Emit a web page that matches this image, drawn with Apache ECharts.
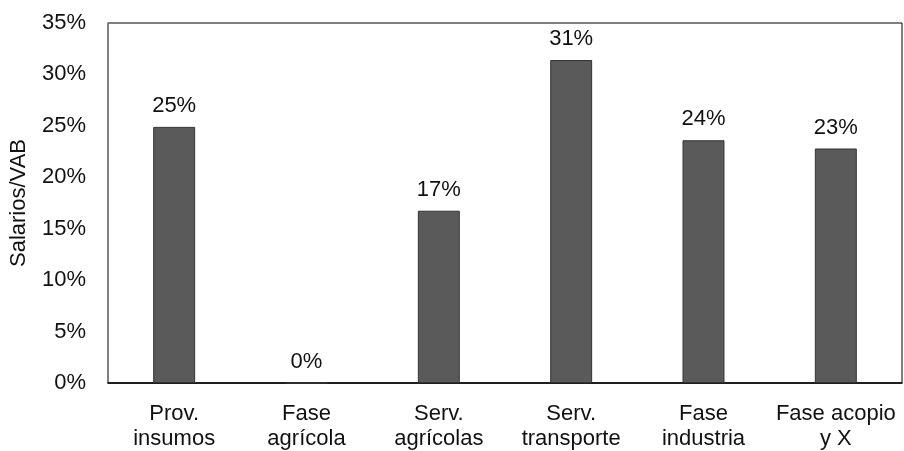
<!DOCTYPE html>
<html>
<head>
<meta charset="utf-8">
<script src="https://cdn.jsdelivr.net/npm/echarts@6/dist/echarts.min.js"></script>
<style>
  html, body { margin: 0; padding: 0; background: #fff; }
  #chart { width: 904px; height: 451px; }
</style>
</head>
<body>
<div id="chart"></div>
<script>
// Wage share of value added by stage of the chain
const categories = ['Prov.\ninsumos', 'Fase\nagrícola', 'Serv.\nagrícolas', 'Serv.\ntransporte', 'Fase\nindustria', 'Fase acopio\ny X'];
const salariosVAB = [0.249, 0, 0.1675, 0.314, 0.236, 0.228];
const yTicks = { min: 0, max: 0.35, interval: 0.05 };
const yTitle = 'Salarios/VAB';

const font = 'Liberation Sans, Arial, sans-serif';
const pct = v => Math.round(v * 100) + '%';

const chart = echarts.init(document.getElementById('chart'), null, { renderer: 'canvas' });
chart.setOption({
  animation: false,
  backgroundColor: '#fff',
  grid: {
    left: 107, right: 2, top: 23, bottom: 68,
    show: true, borderColor: '#000', borderWidth: 1, backgroundColor: 'transparent'
  },
  xAxis: {
    type: 'category',
    data: categories,
    axisLine: { show: true, lineStyle: { color: '#000', width: 1.5 } },
    axisTick: { show: false },
    axisLabel: {
      color: '#111', fontFamily: font, fontSize: 22, lineHeight: 25,
      margin: 18, interval: 0
    }
  },
  yAxis: {
    type: 'value',
    min: yTicks.min, max: yTicks.max, interval: yTicks.interval,
    name: yTitle,
    nameLocation: 'middle',
    nameGap: 78,
    nameTextStyle: { color: '#111', fontFamily: font, fontSize: 22 },
    axisLine: { show: true, lineStyle: { color: '#808080', width: 1.5 } },
    axisTick: { show: false },
    splitLine: { show: false },
    axisLabel: {
      color: '#111', fontFamily: font, fontSize: 22, margin: 22,
      formatter: v => pct(v)
    }
  },
  series: [{
    type: 'bar',
    data: salariosVAB,
    barWidth: '31.7%',
    itemStyle: { color: '#5a5a5a', borderColor: '#333', borderWidth: 1 },
    label: {
      show: true, position: 'top', distance: 10,
      color: '#111', fontFamily: font, fontSize: 22,
      formatter: p => pct(p.value)
    }
  }]
});
</script>
</body>
</html>
